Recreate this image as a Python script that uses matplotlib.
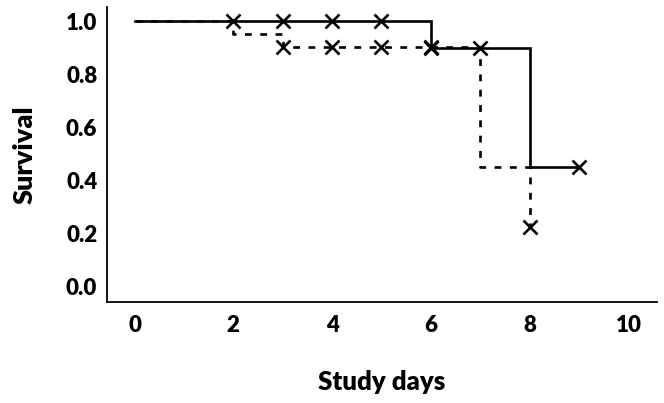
import matplotlib
matplotlib.use("Agg")
import matplotlib.pyplot as plt

# Kaplan-Meier style step data
solid_t = [0, 6, 8, 9]
solid_s = [1.0, 0.90, 0.45, 0.45]
dashed_t = [0, 2, 3, 7, 8]
dashed_s = [1.0, 0.951, 0.904, 0.451, 0.224]

# censor marks
solid_cens_t = [2, 3, 4, 5, 6, 9]
solid_cens_s = [1.0, 1.0, 1.0, 1.0, 0.90, 0.45]
dashed_cens_t = [3, 4, 5, 6, 7, 8]
dashed_cens_s = [0.904, 0.904, 0.904, 0.904, 0.90, 0.224]

xticks = [0, 2, 4, 6, 8, 10]
yticks = [0.0, 0.2, 0.4, 0.6, 0.8, 1.0]

plt.rcParams['font.family'] = ['Lato', 'DejaVu Sans']

fig = plt.figure(figsize=(6.64, 4.03), dpi=100)
ax = fig.add_axes([107/664, 1-302/403, 550/664, 295/403])

lw = 1.9
ax.step(solid_t, solid_s, where='post', color='black', lw=lw, solid_joinstyle='miter')
ax.step(dashed_t, dashed_s, where='post', color='black', lw=lw, linestyle=(0, (2.6, 3.2)))
ax.plot(solid_cens_t, solid_cens_s, 'x', color='black', ms=9.5, mew=1.9)
ax.plot(dashed_cens_t, dashed_cens_s, 'x', color='black', ms=9.5, mew=1.9)

ax.set_xlim(-0.557, 10.58)
ax.set_ylim(-0.06, 1.054)
ax.set_xticks(xticks)
ax.set_xticklabels([str(v) for v in xticks])
ax.set_yticks(yticks)
ax.set_yticklabels([f"{v:.1f}" for v in yticks])
ax.tick_params(length=0, labelsize=16, pad=7)
for lab in ax.get_xticklabels() + ax.get_yticklabels():
    lab.set_fontweight('heavy')
ax.tick_params(axis='x', pad=9)

ax.spines['top'].set_visible(False)
ax.spines['right'].set_visible(False)
ax.spines['left'].set_linewidth(1.3)
ax.spines['bottom'].set_linewidth(1.3)

ax.set_xlabel("Study days", fontsize=18.5, fontweight='heavy', labelpad=25)
ax.set_ylabel("Survival", fontsize=19.5, fontweight='heavy', labelpad=21)

fig.savefig("out.png", dpi=100)
